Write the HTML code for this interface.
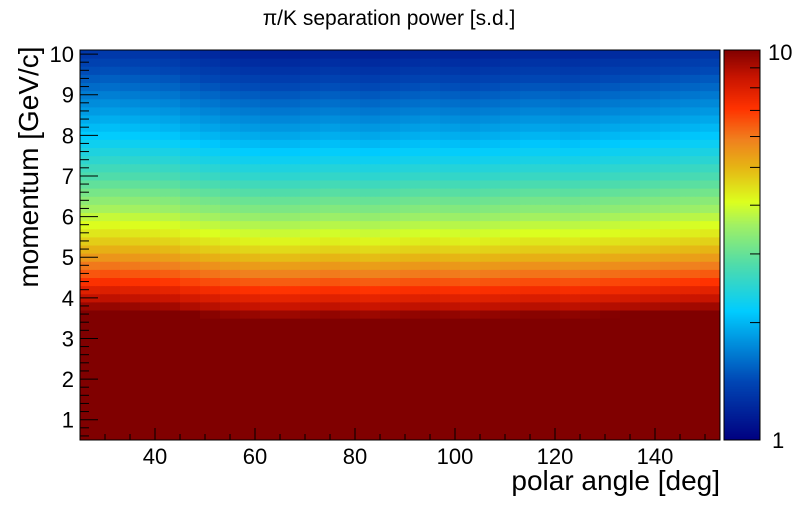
<!DOCTYPE html>
<html><head><meta charset="utf-8">
<style>
body{margin:0;background:#fff;}
svg text{font-family:"Liberation Sans",sans-serif;fill:#000;}
</style></head>
<body>
<svg id="chart" width="800" height="500" viewBox="0 0 800 500">
<text x="389" y="25" text-anchor="middle" font-size="21">π/K separation power [s.d.]</text>
<g id="cells"></g>
<g id="axes"></g>
<g id="cbar"></g>
<text x="720" y="490" text-anchor="end" font-size="28">polar angle [deg]</text>
<text transform="translate(38,167) rotate(-90)" text-anchor="middle" font-size="28">momentum [GeV/c]</text>
</svg>
<script>
// momentum bin centres (GeV/c) and separation values per momentum row
const momentumCenters = [0.6,0.8,1.0,1.2,1.4,1.6,1.8,2.0,2.2,2.4,2.6,2.8,3.0,3.2,3.4,3.6,3.8,4.0,4.2,4.4,4.6,4.8,5.0,5.2,5.4,5.6,5.8,6.0,6.2,6.4,6.6,6.8,7.0,7.2,7.4,7.6,7.8,8.0,8.2,8.4,8.6,8.8,9.0,9.2,9.4,9.6,9.8,10.0];
const rowValues = [20,20,20,20,20,20,20,20,20,20,20,20,20,20,20,10,9.0,8.2,7.5,6.8,6.2,5.7,5.2,4.8,4.45,4.15,3.9,3.65,3.4,3.2,3.0,2.82,2.66,2.52,2.38,2.26,2.14,2.03,1.93,1.84,1.75,1.67,1.59,1.51,1.44,1.37,1.31,1.25];
// angular modulation, one value per 4-degree block starting at 25 deg
const angleFactors = [1.05,1.06,1.05,1.04,1.03,1.0,0.98,0.96,0.95,0.94,0.94,0.95,0.96,0.95,0.94,0.95,0.96,0.97,0.96,0.95,0.96,0.97,0.98,0.98,0.97,0.98,0.99,1.00,1.01,1.02,1.03,1.04];
const xTicks = [40,60,80,100,120,140];
const yTicks = [1,2,3,4,5,6,7,8,9,10];
const zTickLabels = ["1","10"];

const X0=80,X1=720,Y0=50,Y1=440;
const xMin=25,xMax=153,yMin=0.5,yMax=10.1,binW=1,binH=0.2;
const sx=v=>X0+(v-xMin)/(xMax-xMin)*(X1-X0);
const sy=v=>Y1-(v-yMin)/(yMax-yMin)*(Y1-Y0);
const stops=[[0,[0,0,128]],[0.15,[0,70,180]],[0.33,[0,204,255]],[0.45,[80,220,170]],[0.55,[160,240,100]],[0.61,[220,255,30]],[0.70,[230,180,20]],[0.77,[240,128,30]],[0.85,[255,50,0]],[0.93,[200,20,0]],[1,[128,0,0]]];
function col(f){f=Math.max(0,Math.min(1,f));for(let i=1;i<stops.length;i++){if(f<=stops[i][0]){const a=stops[i-1],b=stops[i],t=(f-a[0])/(b[0]-a[0]);return 'rgb('+a[1].map((c,k)=>Math.round(c+(b[1][k]-c)*t)).join(',')+')';}}return 'rgb(128,0,0)';}
const zf=v=>Math.log10(v);
const NS='http://www.w3.org/2000/svg';
function mk(t,a,p){const e=document.createElementNS(NS,t);for(const k in a)e.setAttribute(k,a[k]);p.appendChild(e);return e;}
const cells=document.getElementById('cells');
for(let r=0;r<momentumCenters.length;r++){
  for(let c=0;c<(xMax-xMin)/binW;c++){
    const ang=xMin+c*binW;
    const v=rowValues[r]*angleFactors[Math.min(angleFactors.length-1,Math.floor(c/4))];
    const y0=sy(momentumCenters[r]+binH/2),y1=sy(momentumCenters[r]-binH/2);
    const e=mk('rect',{x:sx(ang),y:y0,width:sx(ang+binW)-sx(ang)+0.5,height:y1-y0+0.5,fill:col(zf(v))},cells);
    
    
  }
}
const ax=document.getElementById('axes');
mk('rect',{x:X0,y:Y0,width:X1-X0,height:Y1-Y0,fill:'none',stroke:'#000','stroke-width':1},ax);
for(let v=xMin;v<=xMax;v+=5){const big=v%20===0;mk('line',{x1:sx(v),x2:sx(v),y1:Y1,y2:Y1-(big?12:6),stroke:'#000'},ax);}
xTicks.forEach(v=>{const t=mk('text',{x:sx(v),y:464,'text-anchor':'middle','font-size':22},ax);t.textContent=v;

});
for(let v=0.6;v<=10.1;v+=0.2){const big=Math.abs(v-Math.round(v))<0.01;mk('line',{x1:X0,x2:X0+(big?18:9),y1:sy(v),y2:sy(v),stroke:'#000'},ax);}
yTicks.forEach(v=>{const t=mk('text',{x:74,y:sy(v)+8,'text-anchor':'end','font-size':22},ax);t.textContent=v;

});
const cb=document.getElementById('cbar');
const CX0=724,CX1=760;
for(let i=0;i<390;i++){mk('rect',{x:CX0,y:Y1-i-1,width:CX1-CX0,height:1.5,fill:col(i/390)},cb);}
mk('rect',{x:CX0,y:Y0,width:CX1-CX0,height:Y1-Y0,fill:'none',stroke:'#000'},cb);
for(let v=2;v<=9;v++){const y=Y1-Math.log10(v)*(Y1-Y0);mk('line',{x1:CX1-10,x2:CX1,y1:y,y2:y,stroke:'#000'},cb);}
const zl1=mk('text',{x:768,y:60,'font-size':22},cb);zl1.textContent=zTickLabels[1];


const zl0=mk('text',{x:772,y:448,'font-size':22},cb);zl0.textContent=zTickLabels[0];


</script>
</body></html>
